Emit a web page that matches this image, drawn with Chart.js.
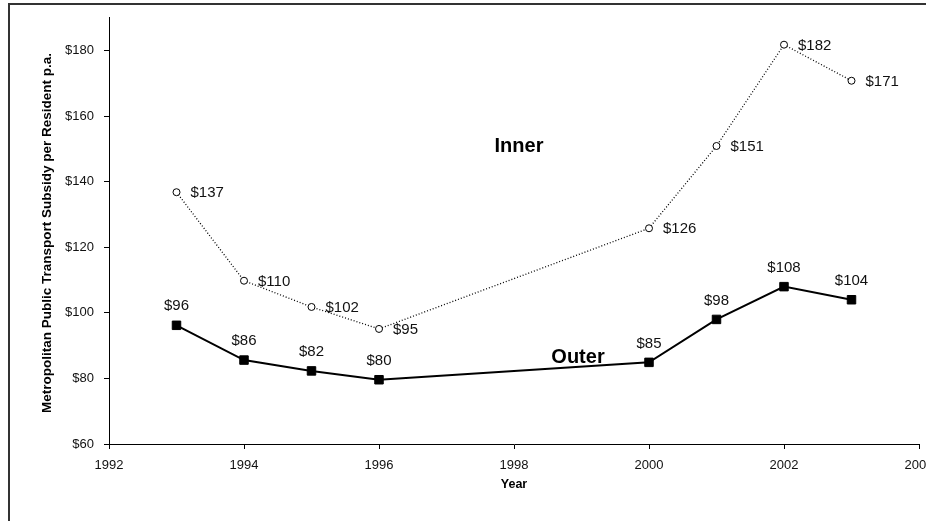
<!DOCTYPE html>
<html>
<head>
<meta charset="utf-8">
<script src="https://cdn.jsdelivr.net/npm/chart.js@4"></script>
<style>
  html, body { margin: 0; padding: 0; background: #fff; overflow: hidden; }
  #wrap { position: relative; width: 926px; height: 521px; overflow: hidden; }
  #frame { position: absolute; left: 8px; top: 3px; width: 940px; height: 540px;
           border-left: 2px solid #333; border-top: 2px solid #333; }
  canvas { position: absolute; left: 0; top: 0; }
</style>
</head>
<body>
<div id="wrap">
  <div id="frame"></div>
  <canvas id="subsidyChart" width="960" height="521"></canvas>
</div>
<script>
const years = [1993, 1994, 1995, 1996, 2000, 2001, 2002, 2003];
const innerValues = [136.8, 109.8, 101.8, 95.1, 125.8, 150.9, 181.8, 170.8];
const outerValues = [96.2, 85.6, 82.3, 79.6, 84.9, 98.0, 108.0, 104.0];
const innerLabels = ['$137', '$110', '$102', '$95', '$126', '$151', '$182', '$171'];
const outerLabels = ['$96', '$86', '$82', '$80', '$85', '$98', '$108', '$104'];
const yTickValues = [60, 80, 100, 120, 140, 160, 180];

Chart.defaults.font.family = '"Liberation Sans", Arial, sans-serif';
Chart.defaults.color = '#111';

// value labels, series names and the y title
const annotate = {
    id: 'annotate',
    afterDatasetsDraw(chart) {
        const ctx = chart.ctx;
        const x = chart.scales.x, y = chart.scales.y;
        ctx.save();
        ctx.fillStyle = '#111';
        ctx.font = '15px "Liberation Sans", Arial, sans-serif';
        ctx.textBaseline = 'middle';
        ctx.textAlign = 'left';
        years.forEach((yr, i) => {
            ctx.fillText(innerLabels[i], x.getPixelForValue(yr) + 14, y.getPixelForValue(innerValues[i]) + 1);
        });
        ctx.textAlign = 'center';
        years.forEach((yr, i) => {
            ctx.fillText(outerLabels[i], x.getPixelForValue(yr), y.getPixelForValue(outerValues[i]) - 19);
        });

        ctx.font = 'bold 20px "Liberation Sans", Arial, sans-serif';
        ctx.fillStyle = '#000';
        ctx.fillText('Inner', 519, 146);
        ctx.fillText('Outer', 578, 357);

        ctx.font = 'bold 13.5px "Liberation Sans", Arial, sans-serif';
        ctx.translate(47, 233);
        ctx.rotate(-Math.PI / 2);
        ctx.fillText('Metropolitan Public Transport Subsidy per Resident p.a.', 0, 0);
        ctx.restore();
    }
};

new Chart(document.getElementById('subsidyChart'), {
    type: 'line',
    data: {
        datasets: [{
            label: 'Inner',
            data: years.map((yr, i) => ({ x: yr, y: innerValues[i] })),
            borderColor: '#000',
            borderWidth: 1.3,
            borderDash: [1, 2],
            pointStyle: 'circle',
            pointRadius: 3.5,
            pointBackgroundColor: '#fff',
            pointBorderColor: '#000',
            pointBorderWidth: 1,
            tension: 0
        }, {
            label: 'Outer',
            data: years.map((yr, i) => ({ x: yr, y: outerValues[i] })),
            borderColor: '#000',
            borderWidth: 2,
            pointStyle: 'rect',
            pointRadius: 6,
            pointBackgroundColor: '#000',
            pointBorderColor: '#000',
            pointBorderWidth: 1,
            tension: 0
        }]
    },
    options: {
        responsive: false,
        animation: false,
        layout: { padding: { top: 16, right: 41, left: 8, bottom: 0 } },
        scales: {
            x: {
                type: 'linear',
                min: 1992,
                max: 2004,
                afterFit: s => { s.height = 77; },
                ticks: {
                    stepSize: 2,
                    padding: 9,
                    font: { size: 13 },
                    maxRotation: 0,
                    callback: v => String(v)
                },
                grid: { drawOnChartArea: false, drawTicks: true, tickLength: 5, color: '#000' },
                border: { color: '#000', width: 1 },
                title: {
                    display: true,
                    text: 'Year',
                    font: { size: 12.5, weight: 'bold' },
                    color: '#000',
                    padding: { top: 0, bottom: 28.5 }
                }
            },
            y: {
                min: 60,
                max: 190,
                afterFit: s => { s.width = 101; },
                afterBuildTicks: s => { s.ticks = yTickValues.map(v => ({ value: v })); },
                ticks: {
                    padding: 10,
                    font: { size: 13 },
                    callback: v => '$' + v
                },
                grid: { drawOnChartArea: false, drawTicks: true, tickLength: 5, color: '#000' },
                border: { color: '#000', width: 1 }
            }
        },
        plugins: {
            legend: { display: false },
            tooltip: { enabled: false }
        }
    },
    plugins: [annotate]
});
</script>
</body>
</html>
